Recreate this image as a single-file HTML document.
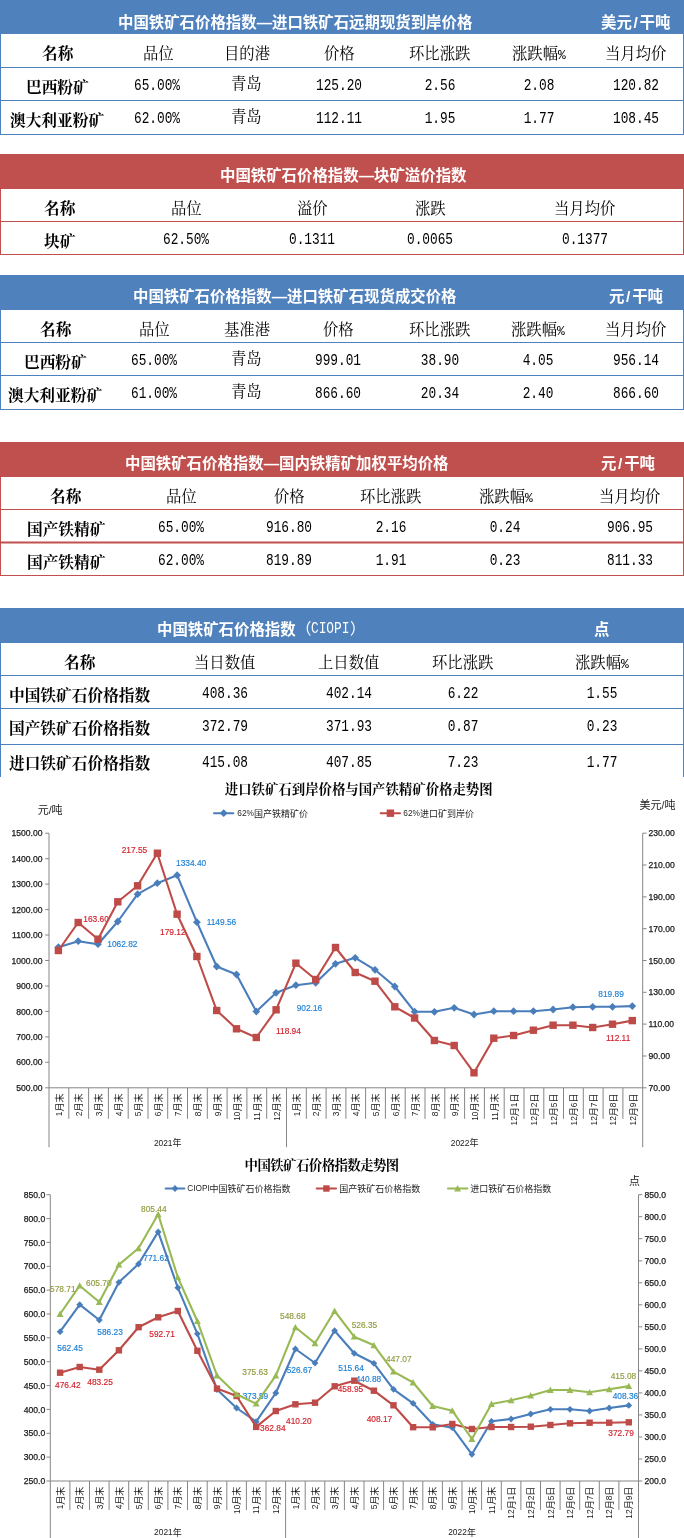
<!DOCTYPE html>
<html lang="zh-CN"><head><meta charset="utf-8"><title>中国铁矿石价格指数</title>
<style>
html,body{margin:0;padding:0;background:#fff}
body{width:684px;height:1538px;position:relative;overflow:hidden;font-family:"Liberation Sans",sans-serif}
#page{position:absolute;left:0;top:0;width:684px;height:1538px;will-change:transform}
.bar{position:absolute;left:0;width:684px}
.vl{position:absolute;width:1px}
.hl{position:absolute;left:0;width:684px;height:1px}
.cj{position:absolute;overflow:visible}
.cj text{font-family:"Liberation Serif","Noto Serif CJK SC",serif}
.cj .hx{font-family:"Liberation Sans","Noto Sans CJK SC",sans-serif;font-size:15.42px;font-weight:bold;fill:#fff}
.cj .kb{font-size:15.7px;font-weight:bold;fill:#000}
.cj .k{font-size:15.35px;fill:#000}
.cj .p{font-family:"Liberation Sans","Noto Sans CJK SC",sans-serif;font-size:15.4px;fill:#fff}
.cj .pc{font-family:"Liberation Mono",monospace;font-size:13px}
.n{position:absolute;width:100px;height:20px;line-height:20px;text-align:center;font-family:"Liberation Mono",monospace;font-size:16.0px;color:#000;transform:scaleX(0.8);white-space:pre}
.ci{position:absolute;width:48px;height:20px;line-height:20px;font-family:"Liberation Mono",monospace;font-size:16px;color:#fff;transform:scaleX(.8);transform-origin:0 50%;white-space:pre}
.chart{position:absolute;left:0;overflow:hidden}
.chart text{font-family:"Liberation Sans","Noto Sans CJK SC",sans-serif}
.chart text.ttl{font-family:"Liberation Serif","Noto Serif CJK SC",serif;font-weight:bold;font-size:13.4px;fill:#000}
</style></head>
<body>
<div id="page">
<section class="tbl" aria-label="中国铁矿石价格指数—进口铁矿石远期现货到岸价格">
<div class="bar" style="top:0px;height:34px;background:#4F81BD"></div>
<div class="vl" style="left:0;top:34px;height:101px;background:#4F81BD"></div>
<div class="vl" style="left:683px;top:34px;height:101px;background:#4F81BD"></div>
<div class="hl" style="top:67px;background:#4F81BD"></div>
<div class="hl" style="top:100px;background:#4F81BD"></div>
<div class="hl" style="top:134px;background:#4F81BD"></div>
<svg class="cj" style="left:117.83px;top:11.38px" width="354.66" height="21.84" fill="#fff"><title>中国铁矿石价格指数—进口铁矿石远期现货到岸价格</title><text class="hx" x="0" y="16.85">中国铁矿石价格指数—进口铁矿石远期现货到岸价格</text></svg>
<svg class="cj" style="left:601.22px;top:11.38px" width="69.39" height="21.84" fill="#fff"><title>美元/干吨</title><text class="hx" y="16.85"><tspan x="0">美元</tspan><tspan x="32.4">/</tspan><tspan x="38.55">干吨</tspan></text></svg>
<svg class="cj" style="left:41.65px;top:42.60px" width="31.40" height="21.00" fill="#000"><title>名称</title><text class="kb" x="0" y="16.2">名称</text></svg>
<svg class="cj" style="left:142.82px;top:42.60px" width="30.70" height="21.00" fill="#000"><title>品位</title><text class="k" x="0" y="16.2">品位</text></svg>
<svg class="cj" style="left:223.65px;top:42.60px" width="46.05" height="21.00" fill="#000"><title>目的港</title><text class="k" x="0" y="16.2">目的港</text></svg>
<svg class="cj" style="left:323.82px;top:42.60px" width="30.70" height="21.00" fill="#000"><title>价格</title><text class="k" x="0" y="16.2">价格</text></svg>
<svg class="cj" style="left:408.98px;top:42.60px" width="61.40" height="21.00" fill="#000"><title>环比涨跌</title><text class="k" x="0" y="16.2">环比涨跌</text></svg>
<svg class="cj" style="left:511.84px;top:42.60px" width="53.72" height="21.00" fill="#000"><title>涨跌幅%</title><text class="k" y="16.2"><tspan x="0">涨跌幅</tspan><tspan class="pc" x="46.1">%</tspan></text></svg>
<svg class="cj" style="left:605.48px;top:42.60px" width="61.40" height="21.00" fill="#000"><title>当月均价</title><text class="k" x="0" y="16.2">当月均价</text></svg>
<svg class="cj" style="left:25.95px;top:76.70px" width="62.80" height="21.00" fill="#000"><title>巴西粉矿</title><text class="kb" x="0" y="16.2">巴西粉矿</text></svg>
<div class="n" style="left:107.00px;top:76.10px">65.00%</div>
<svg class="cj" style="left:231.32px;top:73.40px" width="30.70" height="21.00" fill="#000"><title>青岛</title><text class="k" x="0" y="16.2">青岛</text></svg>
<div class="n" style="left:289.00px;top:76.10px">125.20</div>
<div class="n" style="left:389.50px;top:76.10px">2.56</div>
<div class="n" style="left:488.70px;top:76.10px">2.08</div>
<div class="n" style="left:586.00px;top:76.10px">120.82</div>
<svg class="cj" style="left:10.25px;top:109.70px" width="94.20" height="21.00" fill="#000"><title>澳大利亚粉矿</title><text class="kb" x="0" y="16.2">澳大利亚粉矿</text></svg>
<div class="n" style="left:107.00px;top:109.10px">62.00%</div>
<svg class="cj" style="left:231.32px;top:106.40px" width="30.70" height="21.00" fill="#000"><title>青岛</title><text class="k" x="0" y="16.2">青岛</text></svg>
<div class="n" style="left:289.00px;top:109.10px">112.11</div>
<div class="n" style="left:389.50px;top:109.10px">1.95</div>
<div class="n" style="left:488.70px;top:109.10px">1.77</div>
<div class="n" style="left:586.00px;top:109.10px">108.45</div>
</section>
<section class="tbl" aria-label="中国铁矿石价格指数—块矿溢价指数">
<div class="bar" style="top:154px;height:35px;background:#C0504D"></div>
<div class="vl" style="left:0;top:189px;height:66px;background:#C0504D"></div>
<div class="vl" style="left:683px;top:189px;height:66px;background:#C0504D"></div>
<div class="hl" style="top:221px;background:#C0504D"></div>
<div class="hl" style="top:254px;background:#C0504D"></div>
<svg class="cj" style="left:220.15px;top:163.58px" width="246.72" height="21.84" fill="#fff"><title>中国铁矿石价格指数—块矿溢价指数</title><text class="hx" x="0" y="16.85">中国铁矿石价格指数—块矿溢价指数</text></svg>
<svg class="cj" style="left:44.15px;top:197.60px" width="31.40" height="21.00" fill="#000"><title>名称</title><text class="kb" x="0" y="16.2">名称</text></svg>
<svg class="cj" style="left:171.32px;top:197.60px" width="30.70" height="21.00" fill="#000"><title>品位</title><text class="k" x="0" y="16.2">品位</text></svg>
<svg class="cj" style="left:296.82px;top:197.60px" width="30.70" height="21.00" fill="#000"><title>溢价</title><text class="k" x="0" y="16.2">溢价</text></svg>
<svg class="cj" style="left:414.82px;top:197.60px" width="30.70" height="21.00" fill="#000"><title>涨跌</title><text class="k" x="0" y="16.2">涨跌</text></svg>
<svg class="cj" style="left:554.48px;top:197.60px" width="61.40" height="21.00" fill="#000"><title>当月均价</title><text class="k" x="0" y="16.2">当月均价</text></svg>
<svg class="cj" style="left:44.15px;top:230.70px" width="31.40" height="21.00" fill="#000"><title>块矿</title><text class="kb" x="0" y="16.2">块矿</text></svg>
<div class="n" style="left:135.50px;top:230.10px">62.50%</div>
<div class="n" style="left:262.00px;top:230.10px">0.1311</div>
<div class="n" style="left:380.00px;top:230.10px">0.0065</div>
<div class="n" style="left:535.00px;top:230.10px">0.1377</div>
</section>
<section class="tbl" aria-label="中国铁矿石价格指数—进口铁矿石现货成交价格">
<div class="bar" style="top:275px;height:35px;background:#4F81BD"></div>
<div class="vl" style="left:0;top:310px;height:100px;background:#4F81BD"></div>
<div class="vl" style="left:683px;top:310px;height:100px;background:#4F81BD"></div>
<div class="hl" style="top:342px;background:#4F81BD"></div>
<div class="hl" style="top:375px;background:#4F81BD"></div>
<div class="hl" style="top:409px;background:#4F81BD"></div>
<svg class="cj" style="left:132.75px;top:284.58px" width="323.82" height="21.84" fill="#fff"><title>中国铁矿石价格指数—进口铁矿石现货成交价格</title><text class="hx" x="0" y="16.85">中国铁矿石价格指数—进口铁矿石现货成交价格</text></svg>
<svg class="cj" style="left:608.67px;top:284.58px" width="53.97" height="21.84" fill="#fff"><title>元/干吨</title><text class="hx" y="16.85"><tspan x="0">元</tspan><tspan x="17">/</tspan><tspan x="23.13">干吨</tspan></text></svg>
<svg class="cj" style="left:39.65px;top:318.60px" width="31.40" height="21.00" fill="#000"><title>名称</title><text class="kb" x="0" y="16.2">名称</text></svg>
<svg class="cj" style="left:139.32px;top:318.60px" width="30.70" height="21.00" fill="#000"><title>品位</title><text class="k" x="0" y="16.2">品位</text></svg>
<svg class="cj" style="left:223.65px;top:318.60px" width="46.05" height="21.00" fill="#000"><title>基准港</title><text class="k" x="0" y="16.2">基准港</text></svg>
<svg class="cj" style="left:322.82px;top:318.60px" width="30.70" height="21.00" fill="#000"><title>价格</title><text class="k" x="0" y="16.2">价格</text></svg>
<svg class="cj" style="left:409.48px;top:318.60px" width="61.40" height="21.00" fill="#000"><title>环比涨跌</title><text class="k" x="0" y="16.2">环比涨跌</text></svg>
<svg class="cj" style="left:511.14px;top:318.60px" width="53.72" height="21.00" fill="#000"><title>涨跌幅%</title><text class="k" y="16.2"><tspan x="0">涨跌幅</tspan><tspan class="pc" x="46.1">%</tspan></text></svg>
<svg class="cj" style="left:605.48px;top:318.60px" width="61.40" height="21.00" fill="#000"><title>当月均价</title><text class="k" x="0" y="16.2">当月均价</text></svg>
<svg class="cj" style="left:23.95px;top:351.70px" width="62.80" height="21.00" fill="#000"><title>巴西粉矿</title><text class="kb" x="0" y="16.2">巴西粉矿</text></svg>
<div class="n" style="left:103.50px;top:351.10px">65.00%</div>
<svg class="cj" style="left:231.32px;top:348.40px" width="30.70" height="21.00" fill="#000"><title>青岛</title><text class="k" x="0" y="16.2">青岛</text></svg>
<div class="n" style="left:288.00px;top:351.10px">999.01</div>
<div class="n" style="left:390.00px;top:351.10px">38.90</div>
<div class="n" style="left:488.00px;top:351.10px">4.05</div>
<div class="n" style="left:586.00px;top:351.10px">956.14</div>
<svg class="cj" style="left:8.25px;top:384.70px" width="94.20" height="21.00" fill="#000"><title>澳大利亚粉矿</title><text class="kb" x="0" y="16.2">澳大利亚粉矿</text></svg>
<div class="n" style="left:103.50px;top:384.10px">61.00%</div>
<svg class="cj" style="left:231.32px;top:381.40px" width="30.70" height="21.00" fill="#000"><title>青岛</title><text class="k" x="0" y="16.2">青岛</text></svg>
<div class="n" style="left:288.00px;top:384.10px">866.60</div>
<div class="n" style="left:390.00px;top:384.10px">20.34</div>
<div class="n" style="left:488.00px;top:384.10px">2.40</div>
<div class="n" style="left:586.00px;top:384.10px">866.60</div>
</section>
<section class="tbl" aria-label="中国铁矿石价格指数—国内铁精矿加权平均价格">
<div class="bar" style="top:442px;height:35px;background:#C0504D"></div>
<div class="vl" style="left:0;top:477px;height:99px;background:#C0504D"></div>
<div class="vl" style="left:683px;top:477px;height:99px;background:#C0504D"></div>
<div class="hl" style="top:509px;background:#C0504D"></div>
<div class="hl" style="top:541px;height:3px;background:linear-gradient(rgba(192,80,77,.5) 0,rgba(192,80,77,.5) 33.3%,#C0504D 33.3%,#C0504D 66.6%,rgba(192,80,77,.5) 66.6%,rgba(192,80,77,.5) 100%)"></div>
<div class="hl" style="top:575px;background:#C0504D"></div>
<svg class="cj" style="left:125.25px;top:451.58px" width="323.82" height="21.84" fill="#fff"><title>中国铁矿石价格指数—国内铁精矿加权平均价格</title><text class="hx" x="0" y="16.85">中国铁矿石价格指数—国内铁精矿加权平均价格</text></svg>
<svg class="cj" style="left:601.42px;top:451.58px" width="53.97" height="21.84" fill="#fff"><title>元/干吨</title><text class="hx" y="16.85"><tspan x="0">元</tspan><tspan x="17">/</tspan><tspan x="23.13">干吨</tspan></text></svg>
<svg class="cj" style="left:50.15px;top:485.60px" width="31.40" height="21.00" fill="#000"><title>名称</title><text class="kb" x="0" y="16.2">名称</text></svg>
<svg class="cj" style="left:166.32px;top:485.60px" width="30.70" height="21.00" fill="#000"><title>品位</title><text class="k" x="0" y="16.2">品位</text></svg>
<svg class="cj" style="left:273.82px;top:485.60px" width="30.70" height="21.00" fill="#000"><title>价格</title><text class="k" x="0" y="16.2">价格</text></svg>
<svg class="cj" style="left:360.23px;top:485.60px" width="61.40" height="21.00" fill="#000"><title>环比涨跌</title><text class="k" x="0" y="16.2">环比涨跌</text></svg>
<svg class="cj" style="left:478.54px;top:485.60px" width="53.72" height="21.00" fill="#000"><title>涨跌幅%</title><text class="k" y="16.2"><tspan x="0">涨跌幅</tspan><tspan class="pc" x="46.1">%</tspan></text></svg>
<svg class="cj" style="left:599.23px;top:485.60px" width="61.40" height="21.00" fill="#000"><title>当月均价</title><text class="k" x="0" y="16.2">当月均价</text></svg>
<svg class="cj" style="left:26.60px;top:518.70px" width="78.50" height="21.00" fill="#000"><title>国产铁精矿</title><text class="kb" x="0" y="16.2">国产铁精矿</text></svg>
<div class="n" style="left:130.50px;top:518.10px">65.00%</div>
<div class="n" style="left:239.00px;top:518.10px">916.80</div>
<div class="n" style="left:340.75px;top:518.10px">2.16</div>
<div class="n" style="left:455.40px;top:518.10px">0.24</div>
<div class="n" style="left:579.75px;top:518.10px">906.95</div>
<svg class="cj" style="left:26.60px;top:551.70px" width="78.50" height="21.00" fill="#000"><title>国产铁精矿</title><text class="kb" x="0" y="16.2">国产铁精矿</text></svg>
<div class="n" style="left:130.50px;top:551.10px">62.00%</div>
<div class="n" style="left:239.00px;top:551.10px">819.89</div>
<div class="n" style="left:340.75px;top:551.10px">1.91</div>
<div class="n" style="left:455.40px;top:551.10px">0.23</div>
<div class="n" style="left:579.75px;top:551.10px">811.33</div>
</section>
<section class="tbl" aria-label="中国铁矿石价格指数（CIOPI）">
<div class="bar" style="top:608px;height:35px;background:#4F81BD"></div>
<div class="vl" style="left:0;top:643px;height:134px;background:#4F81BD"></div>
<div class="vl" style="left:683px;top:643px;height:134px;background:#4F81BD"></div>
<div class="hl" style="top:675px;background:#4F81BD"></div>
<div class="hl" style="top:708px;background:#4F81BD"></div>
<div class="hl" style="top:744px;background:#4F81BD"></div>
<svg class="cj" style="left:157.30px;top:617.58px" width="138.78" height="21.84" fill="#fff"><title>中国铁矿石价格指数</title><text class="hx" x="0" y="16.85">中国铁矿石价格指数</text></svg>
<svg class="cj" style="left:295.90px;top:618.00px" width="15.40" height="21.00" fill="#fff"><title>（</title><text class="p" x="0" y="16.2">（</text></svg>
<div class="ci" style="left:311px;top:618.5px">CIOPI</div>
<svg class="cj" style="left:349.50px;top:618.00px" width="15.40" height="21.00" fill="#fff"><title>）</title><text class="p" x="0" y="16.2">）</text></svg>
<svg class="cj" style="left:594.20px;top:617.58px" width="15.42" height="21.84" fill="#fff"><title>点</title><text class="hx" x="0" y="16.85">点</text></svg>
<svg class="cj" style="left:63.65px;top:651.70px" width="31.40" height="21.00" fill="#000"><title>名称</title><text class="kb" x="0" y="16.2">名称</text></svg>
<svg class="cj" style="left:194.47px;top:651.70px" width="61.40" height="21.00" fill="#000"><title>当日数值</title><text class="k" x="0" y="16.2">当日数值</text></svg>
<svg class="cj" style="left:318.48px;top:651.70px" width="61.40" height="21.00" fill="#000"><title>上日数值</title><text class="k" x="0" y="16.2">上日数值</text></svg>
<svg class="cj" style="left:432.48px;top:651.70px" width="61.40" height="21.00" fill="#000"><title>环比涨跌</title><text class="k" x="0" y="16.2">环比涨跌</text></svg>
<svg class="cj" style="left:575.14px;top:651.70px" width="53.72" height="21.00" fill="#000"><title>涨跌幅%</title><text class="k" y="16.2"><tspan x="0">涨跌幅</tspan><tspan class="pc" x="46.1">%</tspan></text></svg>
<svg class="cj" style="left:8.70px;top:684.50px" width="141.30" height="21.00" fill="#000"><title>中国铁矿石价格指数</title><text class="kb" x="0" y="16.2">中国铁矿石价格指数</text></svg>
<div class="n" style="left:175.00px;top:683.90px">408.36</div>
<div class="n" style="left:299.00px;top:683.90px">402.14</div>
<div class="n" style="left:413.00px;top:683.90px">6.22</div>
<div class="n" style="left:552.00px;top:683.90px">1.55</div>
<svg class="cj" style="left:8.70px;top:717.80px" width="141.30" height="21.00" fill="#000"><title>国产铁矿石价格指数</title><text class="kb" x="0" y="16.2">国产铁矿石价格指数</text></svg>
<div class="n" style="left:175.00px;top:717.20px">372.79</div>
<div class="n" style="left:299.00px;top:717.20px">371.93</div>
<div class="n" style="left:413.00px;top:717.20px">0.87</div>
<div class="n" style="left:552.00px;top:717.20px">0.23</div>
<svg class="cj" style="left:8.70px;top:753.40px" width="141.30" height="21.00" fill="#000"><title>进口铁矿石价格指数</title><text class="kb" x="0" y="16.2">进口铁矿石价格指数</text></svg>
<div class="n" style="left:175.00px;top:752.80px">415.08</div>
<div class="n" style="left:299.00px;top:752.80px">407.85</div>
<div class="n" style="left:413.00px;top:752.80px">7.23</div>
<div class="n" style="left:552.00px;top:752.80px">1.77</div>
</section>
<svg class="chart" style="top:776.5px" width="684" height="373.5" viewBox="0 776.5 684 373.5"><title>进口铁矿石到岸价格与国产铁精矿价格走势图</title>
<g stroke="#868686" stroke-width="1" fill="none"><path d="M49.0 832.7V1146.7"/><path d="M642.7 832.7V1146.7"/><path d="M49.0 1087.3H642.7"/><path d="M49.0 832.7h-3.8"/><path d="M49.0 858.2h-3.8"/><path d="M49.0 883.6h-3.8"/><path d="M49.0 909.1h-3.8"/><path d="M49.0 934.5h-3.8"/><path d="M49.0 960.0h-3.8"/><path d="M49.0 985.5h-3.8"/><path d="M49.0 1010.9h-3.8"/><path d="M49.0 1036.4h-3.8"/><path d="M49.0 1061.8h-3.8"/><path d="M49.0 1087.3h-3.8"/><path d="M642.7 832.7h3.8"/><path d="M642.7 864.5h3.8"/><path d="M642.7 896.4h3.8"/><path d="M642.7 928.2h3.8"/><path d="M642.7 960.0h3.8"/><path d="M642.7 991.8h3.8"/><path d="M642.7 1023.6h3.8"/><path d="M642.7 1055.5h3.8"/><path d="M642.7 1087.3h3.8"/><path d="M68.8 1087.3V1118.3"/><path d="M88.6 1087.3V1118.3"/><path d="M108.4 1087.3V1118.3"/><path d="M128.2 1087.3V1118.3"/><path d="M148.0 1087.3V1118.3"/><path d="M167.7 1087.3V1118.3"/><path d="M187.5 1087.3V1118.3"/><path d="M207.3 1087.3V1118.3"/><path d="M227.1 1087.3V1118.3"/><path d="M246.9 1087.3V1118.3"/><path d="M266.7 1087.3V1118.3"/><path d="M286.5 1087.3V1146.7"/><path d="M306.3 1087.3V1118.3"/><path d="M326.1 1087.3V1118.3"/><path d="M345.9 1087.3V1118.3"/><path d="M365.6 1087.3V1118.3"/><path d="M385.4 1087.3V1118.3"/><path d="M405.2 1087.3V1118.3"/><path d="M425.0 1087.3V1118.3"/><path d="M444.8 1087.3V1118.3"/><path d="M464.6 1087.3V1118.3"/><path d="M484.4 1087.3V1118.3"/><path d="M504.2 1087.3V1118.3"/><path d="M524.0 1087.3V1118.3"/><path d="M543.8 1087.3V1118.3"/><path d="M563.5 1087.3V1118.3"/><path d="M583.3 1087.3V1118.3"/><path d="M603.1 1087.3V1118.3"/><path d="M622.9 1087.3V1118.3"/></g>
<g font-size="8.60" fill="#1a1a1a" stroke="#1a1a1a" stroke-width=".25"><text x="42.5" y="835.78" text-anchor="end">1500.00</text><text x="42.5" y="861.24" text-anchor="end">1400.00</text><text x="42.5" y="886.70" text-anchor="end">1300.00</text><text x="42.5" y="912.16" text-anchor="end">1200.00</text><text x="42.5" y="937.62" text-anchor="end">1100.00</text><text x="42.5" y="963.08" text-anchor="end">1000.00</text><text x="42.5" y="988.54" text-anchor="end">900.00</text><text x="42.5" y="1014.00" text-anchor="end">800.00</text><text x="42.5" y="1039.46" text-anchor="end">700.00</text><text x="42.5" y="1064.92" text-anchor="end">600.00</text><text x="42.5" y="1090.38" text-anchor="end">500.00</text><text x="648.5" y="835.78">230.00</text><text x="648.5" y="867.60">210.00</text><text x="648.5" y="899.43">190.00</text><text x="648.5" y="931.25">170.00</text><text x="648.5" y="963.08">150.00</text><text x="648.5" y="994.90">130.00</text><text x="648.5" y="1026.73">110.00</text><text x="648.5" y="1058.55">90.00</text><text x="648.5" y="1090.38">70.00</text></g>
<g transform="translate(59.20 1093.00) rotate(-90)"><g fill="#1a1a1a"><text x="-22.67" y="3.01" font-size="8.40">1</text><text x="-18.00" y="3.42" font-size="9">月末</text></g></g><g transform="translate(78.98 1093.00) rotate(-90)"><g fill="#1a1a1a"><text x="-22.67" y="3.01" font-size="8.40">2</text><text x="-18.00" y="3.42" font-size="9">月末</text></g></g><g transform="translate(98.78 1093.00) rotate(-90)"><g fill="#1a1a1a"><text x="-22.67" y="3.01" font-size="8.40">3</text><text x="-18.00" y="3.42" font-size="9">月末</text></g></g><g transform="translate(118.57 1093.00) rotate(-90)"><g fill="#1a1a1a"><text x="-22.67" y="3.01" font-size="8.40">4</text><text x="-18.00" y="3.42" font-size="9">月末</text></g></g><g transform="translate(138.36 1093.00) rotate(-90)"><g fill="#1a1a1a"><text x="-22.67" y="3.01" font-size="8.40">5</text><text x="-18.00" y="3.42" font-size="9">月末</text></g></g><g transform="translate(158.15 1093.00) rotate(-90)"><g fill="#1a1a1a"><text x="-22.67" y="3.01" font-size="8.40">6</text><text x="-18.00" y="3.42" font-size="9">月末</text></g></g><g transform="translate(177.94 1093.00) rotate(-90)"><g fill="#1a1a1a"><text x="-22.67" y="3.01" font-size="8.40">7</text><text x="-18.00" y="3.42" font-size="9">月末</text></g></g><g transform="translate(197.73 1093.00) rotate(-90)"><g fill="#1a1a1a"><text x="-22.67" y="3.01" font-size="8.40">8</text><text x="-18.00" y="3.42" font-size="9">月末</text></g></g><g transform="translate(217.52 1093.00) rotate(-90)"><g fill="#1a1a1a"><text x="-22.67" y="3.01" font-size="8.40">9</text><text x="-18.00" y="3.42" font-size="9">月末</text></g></g><g transform="translate(237.31 1093.00) rotate(-90)"><g fill="#1a1a1a"><text x="-27.34" y="3.01" font-size="8.40">10</text><text x="-18.00" y="3.42" font-size="9">月末</text></g></g><g transform="translate(257.10 1093.00) rotate(-90)"><g fill="#1a1a1a"><text x="-27.34" y="3.01" font-size="8.40">11</text><text x="-18.00" y="3.42" font-size="9">月末</text></g></g><g transform="translate(276.89 1093.00) rotate(-90)"><g fill="#1a1a1a"><text x="-27.34" y="3.01" font-size="8.40">12</text><text x="-18.00" y="3.42" font-size="9">月末</text></g></g><g transform="translate(296.68 1093.00) rotate(-90)"><g fill="#1a1a1a"><text x="-22.67" y="3.01" font-size="8.40">1</text><text x="-18.00" y="3.42" font-size="9">月末</text></g></g><g transform="translate(316.47 1093.00) rotate(-90)"><g fill="#1a1a1a"><text x="-22.67" y="3.01" font-size="8.40">2</text><text x="-18.00" y="3.42" font-size="9">月末</text></g></g><g transform="translate(336.26 1093.00) rotate(-90)"><g fill="#1a1a1a"><text x="-22.67" y="3.01" font-size="8.40">3</text><text x="-18.00" y="3.42" font-size="9">月末</text></g></g><g transform="translate(356.05 1093.00) rotate(-90)"><g fill="#1a1a1a"><text x="-22.67" y="3.01" font-size="8.40">4</text><text x="-18.00" y="3.42" font-size="9">月末</text></g></g><g transform="translate(375.84 1093.00) rotate(-90)"><g fill="#1a1a1a"><text x="-22.67" y="3.01" font-size="8.40">5</text><text x="-18.00" y="3.42" font-size="9">月末</text></g></g><g transform="translate(395.63 1093.00) rotate(-90)"><g fill="#1a1a1a"><text x="-22.67" y="3.01" font-size="8.40">6</text><text x="-18.00" y="3.42" font-size="9">月末</text></g></g><g transform="translate(415.42 1093.00) rotate(-90)"><g fill="#1a1a1a"><text x="-22.67" y="3.01" font-size="8.40">7</text><text x="-18.00" y="3.42" font-size="9">月末</text></g></g><g transform="translate(435.21 1093.00) rotate(-90)"><g fill="#1a1a1a"><text x="-22.67" y="3.01" font-size="8.40">8</text><text x="-18.00" y="3.42" font-size="9">月末</text></g></g><g transform="translate(455.00 1093.00) rotate(-90)"><g fill="#1a1a1a"><text x="-22.67" y="3.01" font-size="8.40">9</text><text x="-18.00" y="3.42" font-size="9">月末</text></g></g><g transform="translate(474.79 1093.00) rotate(-90)"><g fill="#1a1a1a"><text x="-27.34" y="3.01" font-size="8.40">10</text><text x="-18.00" y="3.42" font-size="9">月末</text></g></g><g transform="translate(494.58 1093.00) rotate(-90)"><g fill="#1a1a1a"><text x="-27.34" y="3.01" font-size="8.40">11</text><text x="-18.00" y="3.42" font-size="9">月末</text></g></g><g transform="translate(514.37 1093.00) rotate(-90)"><g fill="#1a1a1a"><text x="-32.01" y="3.01" font-size="8.40">12</text><text x="-22.67" y="3.42" font-size="9">月</text><text x="-13.67" y="3.01" font-size="8.40">1</text><text x="-9.00" y="3.42" font-size="9">日</text></g></g><g transform="translate(534.15 1093.00) rotate(-90)"><g fill="#1a1a1a"><text x="-32.01" y="3.01" font-size="8.40">12</text><text x="-22.67" y="3.42" font-size="9">月</text><text x="-13.67" y="3.01" font-size="8.40">2</text><text x="-9.00" y="3.42" font-size="9">日</text></g></g><g transform="translate(553.95 1093.00) rotate(-90)"><g fill="#1a1a1a"><text x="-32.01" y="3.01" font-size="8.40">12</text><text x="-22.67" y="3.42" font-size="9">月</text><text x="-13.67" y="3.01" font-size="8.40">5</text><text x="-9.00" y="3.42" font-size="9">日</text></g></g><g transform="translate(573.74 1093.00) rotate(-90)"><g fill="#1a1a1a"><text x="-32.01" y="3.01" font-size="8.40">12</text><text x="-22.67" y="3.42" font-size="9">月</text><text x="-13.67" y="3.01" font-size="8.40">6</text><text x="-9.00" y="3.42" font-size="9">日</text></g></g><g transform="translate(593.52 1093.00) rotate(-90)"><g fill="#1a1a1a"><text x="-32.01" y="3.01" font-size="8.40">12</text><text x="-22.67" y="3.42" font-size="9">月</text><text x="-13.67" y="3.01" font-size="8.40">7</text><text x="-9.00" y="3.42" font-size="9">日</text></g></g><g transform="translate(613.32 1093.00) rotate(-90)"><g fill="#1a1a1a"><text x="-32.01" y="3.01" font-size="8.40">12</text><text x="-22.67" y="3.42" font-size="9">月</text><text x="-13.67" y="3.01" font-size="8.40">8</text><text x="-9.00" y="3.42" font-size="9">日</text></g></g><g transform="translate(633.11 1093.00) rotate(-90)"><g fill="#1a1a1a"><text x="-32.01" y="3.01" font-size="8.40">12</text><text x="-22.67" y="3.42" font-size="9">月</text><text x="-13.67" y="3.01" font-size="8.40">9</text><text x="-9.00" y="3.42" font-size="9">日</text></g></g>
<g fill="#1a1a1a"><text x="153.90" y="1145.01" font-size="8.40">2021</text><text x="172.58" y="1145.42" font-size="9">年</text></g>
<g fill="#1a1a1a"><text x="450.75" y="1145.01" font-size="8.40">2022</text><text x="469.43" y="1145.42" font-size="9">年</text></g>
<g><text class="ttl" x="224.80" y="793.25">进口铁矿石到岸价格与国产铁精矿价格走势图</text></g>
<g fill="#1a1a1a"><text x="37.70" y="813.58" font-size="11">元</text><text x="48.70" y="813.16" font-size="10.50">/</text><text x="51.62" y="813.58" font-size="11">吨</text></g>
<g fill="#1a1a1a"><text x="639.50" y="808.68" font-size="11">美元</text><text x="661.50" y="808.26" font-size="10.50">/</text><text x="664.42" y="808.68" font-size="11">吨</text></g>
<path d="M214.0 812.7H233.3" stroke="#4A7EBB" stroke-width="2.1" stroke-linecap="round"/>
<path d="M223.7 808.8l3.9 3.9l-3.9 3.9l-3.9 -3.9z" fill="#4A7EBB"/>
<g fill="#262626"><text x="237.30" y="815.67" font-size="8.30">62%</text><text x="253.91" y="816.12" font-size="9">国产铁精矿价</text></g>
<path d="M380.7 812.7H400.0" stroke="#BE4B48" stroke-width="2.1" stroke-linecap="round"/>
<rect x="386.7" y="809.0" width="7.4" height="7.4" fill="#BE4B48"/>
<g fill="#262626"><text x="403.30" y="815.67" font-size="8.30">62%</text><text x="419.91" y="816.12" font-size="9">进口矿到岸价</text></g>
<text x="121.7" y="852.99" font-size="8.35" fill="#D3202C" stroke="#D3202C" stroke-width=".15">217.55</text>
<text x="176.0" y="865.39" font-size="8.35" fill="#1B7FD4" stroke="#1B7FD4" stroke-width=".15">1334.40</text>
<text x="83.3" y="921.39" font-size="8.35" fill="#D3202C" stroke="#D3202C" stroke-width=".15">163.60</text>
<text x="206.7" y="924.69" font-size="8.35" fill="#1B7FD4" stroke="#1B7FD4" stroke-width=".15">1149.56</text>
<text x="160.0" y="934.69" font-size="8.35" fill="#D3202C" stroke="#D3202C" stroke-width=".15">179.12</text>
<text x="107.3" y="946.39" font-size="8.35" fill="#1B7FD4" stroke="#1B7FD4" stroke-width=".15">1062.82</text>
<text x="296.7" y="1010.69" font-size="8.35" fill="#1B7FD4" stroke="#1B7FD4" stroke-width=".15">902.16</text>
<text x="276.0" y="1033.69" font-size="8.35" fill="#D3202C" stroke="#D3202C" stroke-width=".15">118.94</text>
<text x="598.3" y="996.99" font-size="8.35" fill="#1B7FD4" stroke="#1B7FD4" stroke-width=".15">819.89</text>
<text x="606.0" y="1040.39" font-size="8.35" fill="#D3202C" stroke="#D3202C" stroke-width=".15">112.11</text>
<polyline points="58.4,946.7 78.2,940.7 98.0,943.7 117.8,921.0 137.6,893.7 157.3,882.7 177.1,874.7 196.9,921.7 216.7,966.0 236.5,974.0 256.3,1011.0 276.1,992.3 295.9,984.7 315.7,982.3 335.5,963.3 355.2,957.3 375.0,969.3 394.8,986.0 414.6,1011.2 434.4,1011.3 454.2,1007.3 474.0,1014.0 493.8,1010.7 513.6,1010.7 533.4,1010.7 553.1,1009.0 572.9,1006.7 592.7,1006.3 612.5,1006.3 632.3,1005.6" fill="none" stroke="#4A7EBB" stroke-width="2.1" stroke-linejoin="round" stroke-linecap="round"/><path d="M58.4 942.8l3.9 3.9l-3.9 3.9l-3.9 -3.9z" fill="#4A7EBB"/><path d="M78.2 936.8l3.9 3.9l-3.9 3.9l-3.9 -3.9z" fill="#4A7EBB"/><path d="M98.0 939.8l3.9 3.9l-3.9 3.9l-3.9 -3.9z" fill="#4A7EBB"/><path d="M117.8 917.1l3.9 3.9l-3.9 3.9l-3.9 -3.9z" fill="#4A7EBB"/><path d="M137.6 889.8l3.9 3.9l-3.9 3.9l-3.9 -3.9z" fill="#4A7EBB"/><path d="M157.3 878.8l3.9 3.9l-3.9 3.9l-3.9 -3.9z" fill="#4A7EBB"/><path d="M177.1 870.8l3.9 3.9l-3.9 3.9l-3.9 -3.9z" fill="#4A7EBB"/><path d="M196.9 917.8l3.9 3.9l-3.9 3.9l-3.9 -3.9z" fill="#4A7EBB"/><path d="M216.7 962.1l3.9 3.9l-3.9 3.9l-3.9 -3.9z" fill="#4A7EBB"/><path d="M236.5 970.1l3.9 3.9l-3.9 3.9l-3.9 -3.9z" fill="#4A7EBB"/><path d="M256.3 1007.1l3.9 3.9l-3.9 3.9l-3.9 -3.9z" fill="#4A7EBB"/><path d="M276.1 988.4l3.9 3.9l-3.9 3.9l-3.9 -3.9z" fill="#4A7EBB"/><path d="M295.9 980.8l3.9 3.9l-3.9 3.9l-3.9 -3.9z" fill="#4A7EBB"/><path d="M315.7 978.4l3.9 3.9l-3.9 3.9l-3.9 -3.9z" fill="#4A7EBB"/><path d="M335.5 959.4l3.9 3.9l-3.9 3.9l-3.9 -3.9z" fill="#4A7EBB"/><path d="M355.2 953.4l3.9 3.9l-3.9 3.9l-3.9 -3.9z" fill="#4A7EBB"/><path d="M375.0 965.4l3.9 3.9l-3.9 3.9l-3.9 -3.9z" fill="#4A7EBB"/><path d="M394.8 982.1l3.9 3.9l-3.9 3.9l-3.9 -3.9z" fill="#4A7EBB"/><path d="M414.6 1007.3l3.9 3.9l-3.9 3.9l-3.9 -3.9z" fill="#4A7EBB"/><path d="M434.4 1007.4l3.9 3.9l-3.9 3.9l-3.9 -3.9z" fill="#4A7EBB"/><path d="M454.2 1003.4l3.9 3.9l-3.9 3.9l-3.9 -3.9z" fill="#4A7EBB"/><path d="M474.0 1010.1l3.9 3.9l-3.9 3.9l-3.9 -3.9z" fill="#4A7EBB"/><path d="M493.8 1006.8l3.9 3.9l-3.9 3.9l-3.9 -3.9z" fill="#4A7EBB"/><path d="M513.6 1006.8l3.9 3.9l-3.9 3.9l-3.9 -3.9z" fill="#4A7EBB"/><path d="M533.4 1006.8l3.9 3.9l-3.9 3.9l-3.9 -3.9z" fill="#4A7EBB"/><path d="M553.1 1005.1l3.9 3.9l-3.9 3.9l-3.9 -3.9z" fill="#4A7EBB"/><path d="M572.9 1002.8l3.9 3.9l-3.9 3.9l-3.9 -3.9z" fill="#4A7EBB"/><path d="M592.7 1002.4l3.9 3.9l-3.9 3.9l-3.9 -3.9z" fill="#4A7EBB"/><path d="M612.5 1002.4l3.9 3.9l-3.9 3.9l-3.9 -3.9z" fill="#4A7EBB"/><path d="M632.3 1001.7l3.9 3.9l-3.9 3.9l-3.9 -3.9z" fill="#4A7EBB"/>
<polyline points="58.4,950.0 78.2,922.0 98.0,938.7 117.8,901.3 137.6,885.3 157.3,852.7 177.1,913.7 196.9,956.0 216.7,1010.0 236.5,1028.3 256.3,1037.0 276.1,1009.3 295.9,962.7 315.7,979.0 335.5,947.0 355.2,972.0 375.0,980.7 394.8,1006.3 414.6,1017.5 434.4,1040.0 454.2,1045.0 474.0,1072.3 493.8,1037.7 513.6,1035.0 533.4,1029.7 553.1,1024.7 572.9,1024.7 592.7,1027.0 612.5,1023.7 632.3,1020.1" fill="none" stroke="#BE4B48" stroke-width="2.1" stroke-linejoin="round" stroke-linecap="round"/><rect x="54.7" y="946.3" width="7.4" height="7.4" fill="#BE4B48"/><rect x="74.5" y="918.3" width="7.4" height="7.4" fill="#BE4B48"/><rect x="94.3" y="935.0" width="7.4" height="7.4" fill="#BE4B48"/><rect x="114.1" y="897.6" width="7.4" height="7.4" fill="#BE4B48"/><rect x="133.9" y="881.6" width="7.4" height="7.4" fill="#BE4B48"/><rect x="153.7" y="849.0" width="7.4" height="7.4" fill="#BE4B48"/><rect x="173.4" y="910.0" width="7.4" height="7.4" fill="#BE4B48"/><rect x="193.2" y="952.3" width="7.4" height="7.4" fill="#BE4B48"/><rect x="213.0" y="1006.3" width="7.4" height="7.4" fill="#BE4B48"/><rect x="232.8" y="1024.6" width="7.4" height="7.4" fill="#BE4B48"/><rect x="252.6" y="1033.3" width="7.4" height="7.4" fill="#BE4B48"/><rect x="272.4" y="1005.6" width="7.4" height="7.4" fill="#BE4B48"/><rect x="292.2" y="959.0" width="7.4" height="7.4" fill="#BE4B48"/><rect x="312.0" y="975.3" width="7.4" height="7.4" fill="#BE4B48"/><rect x="331.8" y="943.3" width="7.4" height="7.4" fill="#BE4B48"/><rect x="351.5" y="968.3" width="7.4" height="7.4" fill="#BE4B48"/><rect x="371.3" y="977.0" width="7.4" height="7.4" fill="#BE4B48"/><rect x="391.1" y="1002.6" width="7.4" height="7.4" fill="#BE4B48"/><rect x="410.9" y="1013.8" width="7.4" height="7.4" fill="#BE4B48"/><rect x="430.7" y="1036.3" width="7.4" height="7.4" fill="#BE4B48"/><rect x="450.5" y="1041.3" width="7.4" height="7.4" fill="#BE4B48"/><rect x="470.3" y="1068.6" width="7.4" height="7.4" fill="#BE4B48"/><rect x="490.1" y="1034.0" width="7.4" height="7.4" fill="#BE4B48"/><rect x="509.9" y="1031.3" width="7.4" height="7.4" fill="#BE4B48"/><rect x="529.7" y="1026.0" width="7.4" height="7.4" fill="#BE4B48"/><rect x="549.4" y="1021.0" width="7.4" height="7.4" fill="#BE4B48"/><rect x="569.2" y="1021.0" width="7.4" height="7.4" fill="#BE4B48"/><rect x="589.0" y="1023.3" width="7.4" height="7.4" fill="#BE4B48"/><rect x="608.8" y="1020.0" width="7.4" height="7.4" fill="#BE4B48"/><rect x="628.6" y="1016.4" width="7.4" height="7.4" fill="#BE4B48"/>
</svg>
<svg class="chart" style="top:1150.0px" width="684" height="388.0" viewBox="0 1150.0 684 388.0"><title>中国铁矿石价格指数走势图</title>
<g stroke="#868686" stroke-width="1" fill="none"><path d="M50.3 1194.7V1540.0"/><path d="M638.5 1194.7V1540.0"/><path d="M50.3 1481.0H638.5"/><path d="M50.3 1194.7h-3.8"/><path d="M50.3 1218.6h-3.8"/><path d="M50.3 1242.4h-3.8"/><path d="M50.3 1266.3h-3.8"/><path d="M50.3 1290.1h-3.8"/><path d="M50.3 1314.0h-3.8"/><path d="M50.3 1337.8h-3.8"/><path d="M50.3 1361.7h-3.8"/><path d="M50.3 1385.6h-3.8"/><path d="M50.3 1409.4h-3.8"/><path d="M50.3 1433.3h-3.8"/><path d="M50.3 1457.1h-3.8"/><path d="M50.3 1481.0h-3.8"/><path d="M638.5 1194.7h3.8"/><path d="M638.5 1216.7h3.8"/><path d="M638.5 1238.7h3.8"/><path d="M638.5 1260.8h3.8"/><path d="M638.5 1282.8h3.8"/><path d="M638.5 1304.8h3.8"/><path d="M638.5 1326.8h3.8"/><path d="M638.5 1348.9h3.8"/><path d="M638.5 1370.9h3.8"/><path d="M638.5 1392.9h3.8"/><path d="M638.5 1414.9h3.8"/><path d="M638.5 1437.0h3.8"/><path d="M638.5 1459.0h3.8"/><path d="M638.5 1481.0h3.8"/><path d="M69.9 1481.0V1510.0"/><path d="M89.5 1481.0V1510.0"/><path d="M109.1 1481.0V1510.0"/><path d="M128.7 1481.0V1510.0"/><path d="M148.3 1481.0V1510.0"/><path d="M167.9 1481.0V1510.0"/><path d="M187.5 1481.0V1510.0"/><path d="M207.2 1481.0V1510.0"/><path d="M226.8 1481.0V1510.0"/><path d="M246.4 1481.0V1510.0"/><path d="M266.0 1481.0V1510.0"/><path d="M285.6 1481.0V1540.0"/><path d="M305.2 1481.0V1510.0"/><path d="M324.8 1481.0V1510.0"/><path d="M344.4 1481.0V1510.0"/><path d="M364.0 1481.0V1510.0"/><path d="M383.6 1481.0V1510.0"/><path d="M403.2 1481.0V1510.0"/><path d="M422.8 1481.0V1510.0"/><path d="M442.4 1481.0V1510.0"/><path d="M462.0 1481.0V1510.0"/><path d="M481.6 1481.0V1510.0"/><path d="M501.3 1481.0V1510.0"/><path d="M520.9 1481.0V1510.0"/><path d="M540.5 1481.0V1510.0"/><path d="M560.1 1481.0V1510.0"/><path d="M579.7 1481.0V1510.0"/><path d="M599.3 1481.0V1510.0"/><path d="M618.9 1481.0V1510.0"/></g>
<g font-size="8.60" fill="#1a1a1a" stroke="#1a1a1a" stroke-width=".25"><text x="45.2" y="1197.78" text-anchor="end">850.0</text><text x="45.2" y="1221.64" text-anchor="end">800.0</text><text x="45.2" y="1245.50" text-anchor="end">750.0</text><text x="45.2" y="1269.35" text-anchor="end">700.0</text><text x="45.2" y="1293.21" text-anchor="end">650.0</text><text x="45.2" y="1317.07" text-anchor="end">600.0</text><text x="45.2" y="1340.93" text-anchor="end">550.0</text><text x="45.2" y="1364.79" text-anchor="end">500.0</text><text x="45.2" y="1388.65" text-anchor="end">450.0</text><text x="45.2" y="1412.50" text-anchor="end">400.0</text><text x="45.2" y="1436.36" text-anchor="end">350.0</text><text x="45.2" y="1460.22" text-anchor="end">300.0</text><text x="45.2" y="1484.08" text-anchor="end">250.0</text><text x="644.5" y="1197.78">850.0</text><text x="644.5" y="1219.80">800.0</text><text x="644.5" y="1241.82">750.0</text><text x="644.5" y="1263.85">700.0</text><text x="644.5" y="1285.87">650.0</text><text x="644.5" y="1307.89">600.0</text><text x="644.5" y="1329.92">550.0</text><text x="644.5" y="1351.94">500.0</text><text x="644.5" y="1373.96">450.0</text><text x="644.5" y="1395.99">400.0</text><text x="644.5" y="1418.01">350.0</text><text x="644.5" y="1440.03">300.0</text><text x="644.5" y="1462.06">250.0</text><text x="644.5" y="1484.08">200.0</text></g>
<g transform="translate(60.40 1486.70) rotate(-90)"><g fill="#1a1a1a"><text x="-22.67" y="3.01" font-size="8.40">1</text><text x="-18.00" y="3.42" font-size="9">月末</text></g></g><g transform="translate(80.01 1486.70) rotate(-90)"><g fill="#1a1a1a"><text x="-22.67" y="3.01" font-size="8.40">2</text><text x="-18.00" y="3.42" font-size="9">月末</text></g></g><g transform="translate(99.62 1486.70) rotate(-90)"><g fill="#1a1a1a"><text x="-22.67" y="3.01" font-size="8.40">3</text><text x="-18.00" y="3.42" font-size="9">月末</text></g></g><g transform="translate(119.22 1486.70) rotate(-90)"><g fill="#1a1a1a"><text x="-22.67" y="3.01" font-size="8.40">4</text><text x="-18.00" y="3.42" font-size="9">月末</text></g></g><g transform="translate(138.83 1486.70) rotate(-90)"><g fill="#1a1a1a"><text x="-22.67" y="3.01" font-size="8.40">5</text><text x="-18.00" y="3.42" font-size="9">月末</text></g></g><g transform="translate(158.44 1486.70) rotate(-90)"><g fill="#1a1a1a"><text x="-22.67" y="3.01" font-size="8.40">6</text><text x="-18.00" y="3.42" font-size="9">月末</text></g></g><g transform="translate(178.04 1486.70) rotate(-90)"><g fill="#1a1a1a"><text x="-22.67" y="3.01" font-size="8.40">7</text><text x="-18.00" y="3.42" font-size="9">月末</text></g></g><g transform="translate(197.65 1486.70) rotate(-90)"><g fill="#1a1a1a"><text x="-22.67" y="3.01" font-size="8.40">8</text><text x="-18.00" y="3.42" font-size="9">月末</text></g></g><g transform="translate(217.26 1486.70) rotate(-90)"><g fill="#1a1a1a"><text x="-22.67" y="3.01" font-size="8.40">9</text><text x="-18.00" y="3.42" font-size="9">月末</text></g></g><g transform="translate(236.86 1486.70) rotate(-90)"><g fill="#1a1a1a"><text x="-27.34" y="3.01" font-size="8.40">10</text><text x="-18.00" y="3.42" font-size="9">月末</text></g></g><g transform="translate(256.47 1486.70) rotate(-90)"><g fill="#1a1a1a"><text x="-27.34" y="3.01" font-size="8.40">11</text><text x="-18.00" y="3.42" font-size="9">月末</text></g></g><g transform="translate(276.08 1486.70) rotate(-90)"><g fill="#1a1a1a"><text x="-27.34" y="3.01" font-size="8.40">12</text><text x="-18.00" y="3.42" font-size="9">月末</text></g></g><g transform="translate(295.68 1486.70) rotate(-90)"><g fill="#1a1a1a"><text x="-22.67" y="3.01" font-size="8.40">1</text><text x="-18.00" y="3.42" font-size="9">月末</text></g></g><g transform="translate(315.29 1486.70) rotate(-90)"><g fill="#1a1a1a"><text x="-22.67" y="3.01" font-size="8.40">2</text><text x="-18.00" y="3.42" font-size="9">月末</text></g></g><g transform="translate(334.90 1486.70) rotate(-90)"><g fill="#1a1a1a"><text x="-22.67" y="3.01" font-size="8.40">3</text><text x="-18.00" y="3.42" font-size="9">月末</text></g></g><g transform="translate(354.50 1486.70) rotate(-90)"><g fill="#1a1a1a"><text x="-22.67" y="3.01" font-size="8.40">4</text><text x="-18.00" y="3.42" font-size="9">月末</text></g></g><g transform="translate(374.11 1486.70) rotate(-90)"><g fill="#1a1a1a"><text x="-22.67" y="3.01" font-size="8.40">5</text><text x="-18.00" y="3.42" font-size="9">月末</text></g></g><g transform="translate(393.72 1486.70) rotate(-90)"><g fill="#1a1a1a"><text x="-22.67" y="3.01" font-size="8.40">6</text><text x="-18.00" y="3.42" font-size="9">月末</text></g></g><g transform="translate(413.32 1486.70) rotate(-90)"><g fill="#1a1a1a"><text x="-22.67" y="3.01" font-size="8.40">7</text><text x="-18.00" y="3.42" font-size="9">月末</text></g></g><g transform="translate(432.93 1486.70) rotate(-90)"><g fill="#1a1a1a"><text x="-22.67" y="3.01" font-size="8.40">8</text><text x="-18.00" y="3.42" font-size="9">月末</text></g></g><g transform="translate(452.54 1486.70) rotate(-90)"><g fill="#1a1a1a"><text x="-22.67" y="3.01" font-size="8.40">9</text><text x="-18.00" y="3.42" font-size="9">月末</text></g></g><g transform="translate(472.14 1486.70) rotate(-90)"><g fill="#1a1a1a"><text x="-27.34" y="3.01" font-size="8.40">10</text><text x="-18.00" y="3.42" font-size="9">月末</text></g></g><g transform="translate(491.75 1486.70) rotate(-90)"><g fill="#1a1a1a"><text x="-27.34" y="3.01" font-size="8.40">11</text><text x="-18.00" y="3.42" font-size="9">月末</text></g></g><g transform="translate(511.36 1486.70) rotate(-90)"><g fill="#1a1a1a"><text x="-32.01" y="3.01" font-size="8.40">12</text><text x="-22.67" y="3.42" font-size="9">月</text><text x="-13.67" y="3.01" font-size="8.40">1</text><text x="-9.00" y="3.42" font-size="9">日</text></g></g><g transform="translate(530.96 1486.70) rotate(-90)"><g fill="#1a1a1a"><text x="-32.01" y="3.01" font-size="8.40">12</text><text x="-22.67" y="3.42" font-size="9">月</text><text x="-13.67" y="3.01" font-size="8.40">2</text><text x="-9.00" y="3.42" font-size="9">日</text></g></g><g transform="translate(550.57 1486.70) rotate(-90)"><g fill="#1a1a1a"><text x="-32.01" y="3.01" font-size="8.40">12</text><text x="-22.67" y="3.42" font-size="9">月</text><text x="-13.67" y="3.01" font-size="8.40">5</text><text x="-9.00" y="3.42" font-size="9">日</text></g></g><g transform="translate(570.18 1486.70) rotate(-90)"><g fill="#1a1a1a"><text x="-32.01" y="3.01" font-size="8.40">12</text><text x="-22.67" y="3.42" font-size="9">月</text><text x="-13.67" y="3.01" font-size="8.40">6</text><text x="-9.00" y="3.42" font-size="9">日</text></g></g><g transform="translate(589.78 1486.70) rotate(-90)"><g fill="#1a1a1a"><text x="-32.01" y="3.01" font-size="8.40">12</text><text x="-22.67" y="3.42" font-size="9">月</text><text x="-13.67" y="3.01" font-size="8.40">7</text><text x="-9.00" y="3.42" font-size="9">日</text></g></g><g transform="translate(609.39 1486.70) rotate(-90)"><g fill="#1a1a1a"><text x="-32.01" y="3.01" font-size="8.40">12</text><text x="-22.67" y="3.42" font-size="9">月</text><text x="-13.67" y="3.01" font-size="8.40">8</text><text x="-9.00" y="3.42" font-size="9">日</text></g></g><g transform="translate(629.00 1486.70) rotate(-90)"><g fill="#1a1a1a"><text x="-32.01" y="3.01" font-size="8.40">12</text><text x="-22.67" y="3.42" font-size="9">月</text><text x="-13.67" y="3.01" font-size="8.40">9</text><text x="-9.00" y="3.42" font-size="9">日</text></g></g>
<g fill="#1a1a1a"><text x="154.10" y="1535.31" font-size="8.40">2021</text><text x="172.78" y="1535.72" font-size="9">年</text></g>
<g fill="#1a1a1a"><text x="448.20" y="1535.31" font-size="8.40">2022</text><text x="466.88" y="1535.72" font-size="9">年</text></g>
<g><text class="ttl" x="244.60" y="1169.75" letter-spacing="-0.55">中国铁矿石价格指数走势图</text></g>
<g fill="#1a1a1a"><text x="629.00" y="1185.18" font-size="11">点</text></g>
<path d="M165.7 1188.5H184.3" stroke="#4A7EBB" stroke-width="2.1" stroke-linecap="round"/>
<path d="M175.0 1185.1l3.4 3.4l-3.4 3.4l-3.4 -3.4z" fill="#4A7EBB"/>
<g fill="#262626"><text x="187.30" y="1191.47" font-size="8.30">CIOPI</text><text x="209.44" y="1191.92" font-size="9">中国铁矿石价格指数</text></g>
<path d="M316.7 1188.5H336.0" stroke="#BE4B48" stroke-width="2.1" stroke-linecap="round"/>
<rect x="323.2" y="1185.3" width="6.4" height="6.4" fill="#BE4B48"/>
<g fill="#262626"><text x="339.30" y="1191.92" font-size="9">国产铁矿石价格指数</text></g>
<path d="M448.0 1188.5H467.3" stroke="#98B954" stroke-width="2.1" stroke-linecap="round"/>
<path d="M457.6 1185.1l3.4 6.3h-6.9z" fill="#98B954"/>
<g fill="#262626"><text x="470.30" y="1191.92" font-size="9">进口铁矿石价格指数</text></g>
<text x="50.0" y="1291.99" font-size="8.35" fill="#929A3F" stroke="#929A3F" stroke-width=".15">578.71</text>
<text x="86.0" y="1285.99" font-size="8.35" fill="#929A3F" stroke="#929A3F" stroke-width=".15">605.70</text>
<text x="141.0" y="1211.99" font-size="8.35" fill="#929A3F" stroke="#929A3F" stroke-width=".15">805.44</text>
<text x="280.0" y="1318.69" font-size="8.35" fill="#929A3F" stroke="#929A3F" stroke-width=".15">548.68</text>
<text x="242.3" y="1374.99" font-size="8.35" fill="#929A3F" stroke="#929A3F" stroke-width=".15">375.63</text>
<text x="351.7" y="1327.69" font-size="8.35" fill="#929A3F" stroke="#929A3F" stroke-width=".15">526.35</text>
<text x="386.0" y="1361.69" font-size="8.35" fill="#929A3F" stroke="#929A3F" stroke-width=".15">447.07</text>
<text x="610.7" y="1379.39" font-size="8.35" fill="#929A3F" stroke="#929A3F" stroke-width=".15">415.08</text>
<text x="143.3" y="1260.99" font-size="8.35" fill="#1B7FD4" stroke="#1B7FD4" stroke-width=".15">771.62</text>
<text x="97.3" y="1334.99" font-size="8.35" fill="#1B7FD4" stroke="#1B7FD4" stroke-width=".15">586.23</text>
<text x="57.3" y="1350.99" font-size="8.35" fill="#1B7FD4" stroke="#1B7FD4" stroke-width=".15">562.45</text>
<text x="242.7" y="1398.69" font-size="8.35" fill="#1B7FD4" stroke="#1B7FD4" stroke-width=".15">373.59</text>
<text x="286.7" y="1372.69" font-size="8.35" fill="#1B7FD4" stroke="#1B7FD4" stroke-width=".15">526.67</text>
<text x="338.3" y="1370.99" font-size="8.35" fill="#1B7FD4" stroke="#1B7FD4" stroke-width=".15">515.64</text>
<text x="355.7" y="1381.99" font-size="8.35" fill="#1B7FD4" stroke="#1B7FD4" stroke-width=".15">440.88</text>
<text x="612.7" y="1399.39" font-size="8.35" fill="#1B7FD4" stroke="#1B7FD4" stroke-width=".15">408.36</text>
<text x="149.3" y="1336.69" font-size="8.35" fill="#D3202C" stroke="#D3202C" stroke-width=".15">592.71</text>
<text x="55.0" y="1388.39" font-size="8.35" fill="#D3202C" stroke="#D3202C" stroke-width=".15">476.42</text>
<text x="87.3" y="1385.39" font-size="8.35" fill="#D3202C" stroke="#D3202C" stroke-width=".15">483.25</text>
<text x="260.0" y="1430.69" font-size="8.35" fill="#D3202C" stroke="#D3202C" stroke-width=".15">362.84</text>
<text x="286.0" y="1423.69" font-size="8.35" fill="#D3202C" stroke="#D3202C" stroke-width=".15">410.20</text>
<text x="337.7" y="1392.39" font-size="8.35" fill="#D3202C" stroke="#D3202C" stroke-width=".15">458.95</text>
<text x="366.7" y="1421.99" font-size="8.35" fill="#D3202C" stroke="#D3202C" stroke-width=".15">408.17</text>
<text x="608.3" y="1435.99" font-size="8.35" fill="#D3202C" stroke="#D3202C" stroke-width=".15">372.79</text>
<polyline points="60.1,1331.7 79.7,1304.7 99.3,1320.0 118.9,1282.3 138.5,1264.0 158.2,1231.9 177.8,1287.7 197.4,1333.8 217.0,1389.5 236.6,1408.0 256.2,1421.7 275.8,1393.0 295.4,1349.0 315.0,1363.0 334.6,1330.7 354.2,1353.3 373.9,1363.3 393.5,1389.3 413.1,1403.3 432.7,1424.3 452.3,1427.7 471.9,1454.3 491.5,1421.3 511.1,1419.0 530.7,1414.0 550.4,1409.3 570.0,1409.3 589.6,1411.0 609.2,1408.0 628.8,1405.4" fill="none" stroke="#4A7EBB" stroke-width="2.1" stroke-linejoin="round" stroke-linecap="round"/><path d="M60.1 1328.3l3.4 3.4l-3.4 3.4l-3.4 -3.4z" fill="#4A7EBB"/><path d="M79.7 1301.3l3.4 3.4l-3.4 3.4l-3.4 -3.4z" fill="#4A7EBB"/><path d="M99.3 1316.6l3.4 3.4l-3.4 3.4l-3.4 -3.4z" fill="#4A7EBB"/><path d="M118.9 1278.9l3.4 3.4l-3.4 3.4l-3.4 -3.4z" fill="#4A7EBB"/><path d="M138.5 1260.6l3.4 3.4l-3.4 3.4l-3.4 -3.4z" fill="#4A7EBB"/><path d="M158.2 1228.5l3.4 3.4l-3.4 3.4l-3.4 -3.4z" fill="#4A7EBB"/><path d="M177.8 1284.3l3.4 3.4l-3.4 3.4l-3.4 -3.4z" fill="#4A7EBB"/><path d="M197.4 1330.4l3.4 3.4l-3.4 3.4l-3.4 -3.4z" fill="#4A7EBB"/><path d="M217.0 1386.1l3.4 3.4l-3.4 3.4l-3.4 -3.4z" fill="#4A7EBB"/><path d="M236.6 1404.6l3.4 3.4l-3.4 3.4l-3.4 -3.4z" fill="#4A7EBB"/><path d="M256.2 1418.3l3.4 3.4l-3.4 3.4l-3.4 -3.4z" fill="#4A7EBB"/><path d="M275.8 1389.6l3.4 3.4l-3.4 3.4l-3.4 -3.4z" fill="#4A7EBB"/><path d="M295.4 1345.6l3.4 3.4l-3.4 3.4l-3.4 -3.4z" fill="#4A7EBB"/><path d="M315.0 1359.6l3.4 3.4l-3.4 3.4l-3.4 -3.4z" fill="#4A7EBB"/><path d="M334.6 1327.3l3.4 3.4l-3.4 3.4l-3.4 -3.4z" fill="#4A7EBB"/><path d="M354.2 1349.9l3.4 3.4l-3.4 3.4l-3.4 -3.4z" fill="#4A7EBB"/><path d="M373.9 1359.9l3.4 3.4l-3.4 3.4l-3.4 -3.4z" fill="#4A7EBB"/><path d="M393.5 1385.9l3.4 3.4l-3.4 3.4l-3.4 -3.4z" fill="#4A7EBB"/><path d="M413.1 1399.9l3.4 3.4l-3.4 3.4l-3.4 -3.4z" fill="#4A7EBB"/><path d="M432.7 1420.9l3.4 3.4l-3.4 3.4l-3.4 -3.4z" fill="#4A7EBB"/><path d="M452.3 1424.3l3.4 3.4l-3.4 3.4l-3.4 -3.4z" fill="#4A7EBB"/><path d="M471.9 1450.9l3.4 3.4l-3.4 3.4l-3.4 -3.4z" fill="#4A7EBB"/><path d="M491.5 1417.9l3.4 3.4l-3.4 3.4l-3.4 -3.4z" fill="#4A7EBB"/><path d="M511.1 1415.6l3.4 3.4l-3.4 3.4l-3.4 -3.4z" fill="#4A7EBB"/><path d="M530.7 1410.6l3.4 3.4l-3.4 3.4l-3.4 -3.4z" fill="#4A7EBB"/><path d="M550.4 1405.9l3.4 3.4l-3.4 3.4l-3.4 -3.4z" fill="#4A7EBB"/><path d="M570.0 1405.9l3.4 3.4l-3.4 3.4l-3.4 -3.4z" fill="#4A7EBB"/><path d="M589.6 1407.6l3.4 3.4l-3.4 3.4l-3.4 -3.4z" fill="#4A7EBB"/><path d="M609.2 1404.6l3.4 3.4l-3.4 3.4l-3.4 -3.4z" fill="#4A7EBB"/><path d="M628.8 1402.0l3.4 3.4l-3.4 3.4l-3.4 -3.4z" fill="#4A7EBB"/>
<polyline points="60.1,1372.7 79.7,1367.0 99.3,1369.7 118.9,1350.3 138.5,1327.2 158.2,1317.3 177.8,1311.0 197.4,1350.8 217.0,1388.6 236.6,1396.0 256.2,1426.9 275.8,1411.0 295.4,1404.3 315.0,1402.7 334.6,1386.3 354.2,1380.7 373.9,1390.7 393.5,1405.3 413.1,1427.2 432.7,1427.3 452.3,1424.0 471.9,1429.0 491.5,1427.0 511.1,1427.0 530.7,1426.7 550.4,1425.0 570.0,1423.3 589.6,1422.7 609.2,1422.7 628.8,1422.3" fill="none" stroke="#BE4B48" stroke-width="2.1" stroke-linejoin="round" stroke-linecap="round"/><rect x="56.9" y="1369.5" width="6.4" height="6.4" fill="#BE4B48"/><rect x="76.5" y="1363.8" width="6.4" height="6.4" fill="#BE4B48"/><rect x="96.1" y="1366.5" width="6.4" height="6.4" fill="#BE4B48"/><rect x="115.7" y="1347.1" width="6.4" height="6.4" fill="#BE4B48"/><rect x="135.4" y="1324.0" width="6.4" height="6.4" fill="#BE4B48"/><rect x="155.0" y="1314.1" width="6.4" height="6.4" fill="#BE4B48"/><rect x="174.6" y="1307.8" width="6.4" height="6.4" fill="#BE4B48"/><rect x="194.2" y="1347.6" width="6.4" height="6.4" fill="#BE4B48"/><rect x="213.8" y="1385.4" width="6.4" height="6.4" fill="#BE4B48"/><rect x="233.4" y="1392.8" width="6.4" height="6.4" fill="#BE4B48"/><rect x="253.0" y="1423.7" width="6.4" height="6.4" fill="#BE4B48"/><rect x="272.6" y="1407.8" width="6.4" height="6.4" fill="#BE4B48"/><rect x="292.2" y="1401.1" width="6.4" height="6.4" fill="#BE4B48"/><rect x="311.8" y="1399.5" width="6.4" height="6.4" fill="#BE4B48"/><rect x="331.5" y="1383.1" width="6.4" height="6.4" fill="#BE4B48"/><rect x="351.1" y="1377.5" width="6.4" height="6.4" fill="#BE4B48"/><rect x="370.7" y="1387.5" width="6.4" height="6.4" fill="#BE4B48"/><rect x="390.3" y="1402.1" width="6.4" height="6.4" fill="#BE4B48"/><rect x="409.9" y="1424.0" width="6.4" height="6.4" fill="#BE4B48"/><rect x="429.5" y="1424.1" width="6.4" height="6.4" fill="#BE4B48"/><rect x="449.1" y="1420.8" width="6.4" height="6.4" fill="#BE4B48"/><rect x="468.7" y="1425.8" width="6.4" height="6.4" fill="#BE4B48"/><rect x="488.3" y="1423.8" width="6.4" height="6.4" fill="#BE4B48"/><rect x="507.9" y="1423.8" width="6.4" height="6.4" fill="#BE4B48"/><rect x="527.6" y="1423.5" width="6.4" height="6.4" fill="#BE4B48"/><rect x="547.2" y="1421.8" width="6.4" height="6.4" fill="#BE4B48"/><rect x="566.8" y="1420.1" width="6.4" height="6.4" fill="#BE4B48"/><rect x="586.4" y="1419.5" width="6.4" height="6.4" fill="#BE4B48"/><rect x="606.0" y="1419.5" width="6.4" height="6.4" fill="#BE4B48"/><rect x="625.6" y="1419.1" width="6.4" height="6.4" fill="#BE4B48"/>
<polyline points="60.1,1314.0 79.7,1285.7 99.3,1302.0 118.9,1264.7 138.5,1248.3 158.2,1214.3 177.8,1277.3 197.4,1321.2 217.0,1375.5 236.6,1394.3 256.2,1403.7 275.8,1375.7 295.4,1327.3 315.0,1343.3 334.6,1311.0 354.2,1336.7 373.9,1345.3 393.5,1371.7 413.1,1382.5 432.7,1406.0 452.3,1410.7 471.9,1439.0 491.5,1404.0 511.1,1400.3 530.7,1395.7 550.4,1390.0 570.0,1390.0 589.6,1392.3 609.2,1389.3 628.8,1386.1" fill="none" stroke="#98B954" stroke-width="2.1" stroke-linejoin="round" stroke-linecap="round"/><path d="M60.1 1310.6l3.4 6.3h-6.9z" fill="#98B954"/><path d="M79.7 1282.3l3.4 6.3h-6.9z" fill="#98B954"/><path d="M99.3 1298.6l3.4 6.3h-6.9z" fill="#98B954"/><path d="M118.9 1261.3l3.4 6.3h-6.9z" fill="#98B954"/><path d="M138.5 1244.9l3.4 6.3h-6.9z" fill="#98B954"/><path d="M158.2 1210.9l3.4 6.3h-6.9z" fill="#98B954"/><path d="M177.8 1273.9l3.4 6.3h-6.9z" fill="#98B954"/><path d="M197.4 1317.8l3.4 6.3h-6.9z" fill="#98B954"/><path d="M217.0 1372.1l3.4 6.3h-6.9z" fill="#98B954"/><path d="M236.6 1390.9l3.4 6.3h-6.9z" fill="#98B954"/><path d="M256.2 1400.3l3.4 6.3h-6.9z" fill="#98B954"/><path d="M275.8 1372.3l3.4 6.3h-6.9z" fill="#98B954"/><path d="M295.4 1323.9l3.4 6.3h-6.9z" fill="#98B954"/><path d="M315.0 1339.9l3.4 6.3h-6.9z" fill="#98B954"/><path d="M334.6 1307.6l3.4 6.3h-6.9z" fill="#98B954"/><path d="M354.2 1333.3l3.4 6.3h-6.9z" fill="#98B954"/><path d="M373.9 1341.9l3.4 6.3h-6.9z" fill="#98B954"/><path d="M393.5 1368.3l3.4 6.3h-6.9z" fill="#98B954"/><path d="M413.1 1379.1l3.4 6.3h-6.9z" fill="#98B954"/><path d="M432.7 1402.6l3.4 6.3h-6.9z" fill="#98B954"/><path d="M452.3 1407.3l3.4 6.3h-6.9z" fill="#98B954"/><path d="M471.9 1435.6l3.4 6.3h-6.9z" fill="#98B954"/><path d="M491.5 1400.6l3.4 6.3h-6.9z" fill="#98B954"/><path d="M511.1 1396.9l3.4 6.3h-6.9z" fill="#98B954"/><path d="M530.7 1392.3l3.4 6.3h-6.9z" fill="#98B954"/><path d="M550.4 1386.6l3.4 6.3h-6.9z" fill="#98B954"/><path d="M570.0 1386.6l3.4 6.3h-6.9z" fill="#98B954"/><path d="M589.6 1388.9l3.4 6.3h-6.9z" fill="#98B954"/><path d="M609.2 1385.9l3.4 6.3h-6.9z" fill="#98B954"/><path d="M628.8 1382.7l3.4 6.3h-6.9z" fill="#98B954"/>
</svg>
</div>
</body></html>
